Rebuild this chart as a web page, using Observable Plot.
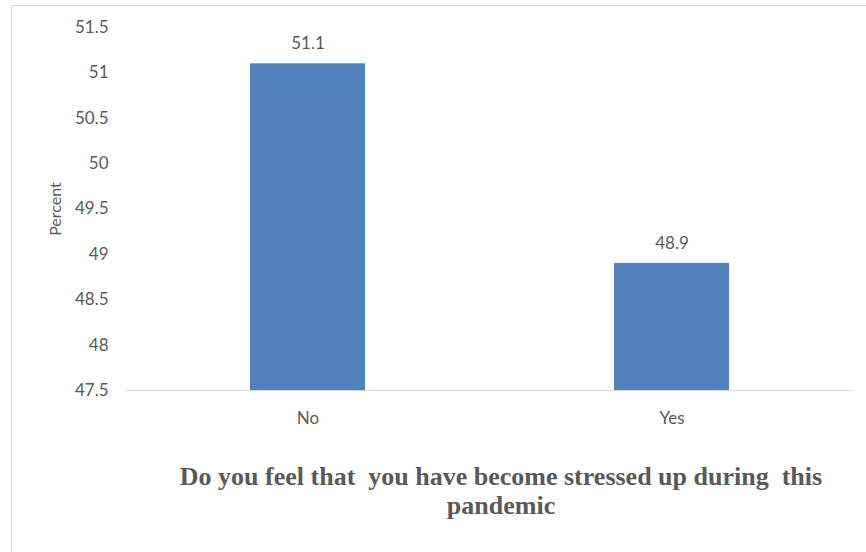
<!DOCTYPE html>
<html>
<head>
<meta charset="utf-8">
<script src="https://cdn.jsdelivr.net/npm/d3@7"></script>
<script src="https://cdn.jsdelivr.net/npm/@observablehq/plot@0.6"></script>
<style>
  html, body { margin: 0; padding: 0; background: #fff; }
  body { width: 866px; height: 552px; position: relative; overflow: hidden; }
  #frame { position: absolute; left: 11px; top: 5px; width: 900px; height: 600px;
           border-left: 1px solid #d9d9d9; border-top: 1px solid #d9d9d9; pointer-events: none; }
  #chart { position: absolute; left: 0; top: 0; }
  #title { position: absolute; left: 140px; width: 722px; top: 462px; text-align: center;
           font-family: "Liberation Serif", "Times New Roman", serif; font-weight: bold;
           font-size: 26px; line-height: 29px; color: #595959; letter-spacing: 0px; }
</style>
</head>
<body>
<div id="frame"></div>
<div id="chart"></div>
<div id="title">Do you feel that&nbsp; you have become stressed up during&nbsp; this<br>pandemic</div>
<script>
const categories = ["No", "Yes"];
const values = [51.1, 48.9];
const yTicks = [47.5, 48, 48.5, 49, 49.5, 50, 50.5, 51, 51.5];
const yLabel = "Percent";

const data = categories.map((c, i) => ({category: c, value: values[i]}));

const chart = Plot.plot({
  width: 866,
  height: 440,
  marginLeft: 126,
  marginRight: 12,
  marginTop: 27,
  marginBottom: 50,
  style: {fontFamily: "Lato, 'Open Sans', sans-serif", fontSize: "17px", color: "#595959", background: "transparent"},
  x: {domain: categories, paddingInner: 0.684, paddingOuter: 0.342, label: null},
  y: {domain: [47.5, 51.5], label: null},
  marks: [
    Plot.barY(data, {x: "category", y1: 47.5, y2: "value", fill: "#4f81bd"}),
    Plot.ruleY([47.5], {stroke: "#d9d9d9", strokeWidth: 1}),
    Plot.text(data, {x: "category", y: "value", text: d => String(d.value), dy: -20, fill: "#595959", fontSize: 17}),
    Plot.axisY({ticks: yTicks, tickFormat: d => String(d), tickSize: 0, tickPadding: 18, fontSize: 17, label: null}),
    Plot.axisX({tickSize: 0, tickPadding: 21, fontSize: 17, label: null}),
    Plot.text([yLabel], {frameAnchor: "left", textAnchor: "middle", dx: -71, rotate: -90, text: d => d, fill: "#595959", fontSize: 16})
  ]
});
document.getElementById("chart").appendChild(chart);
</script>
</body>
</html>
